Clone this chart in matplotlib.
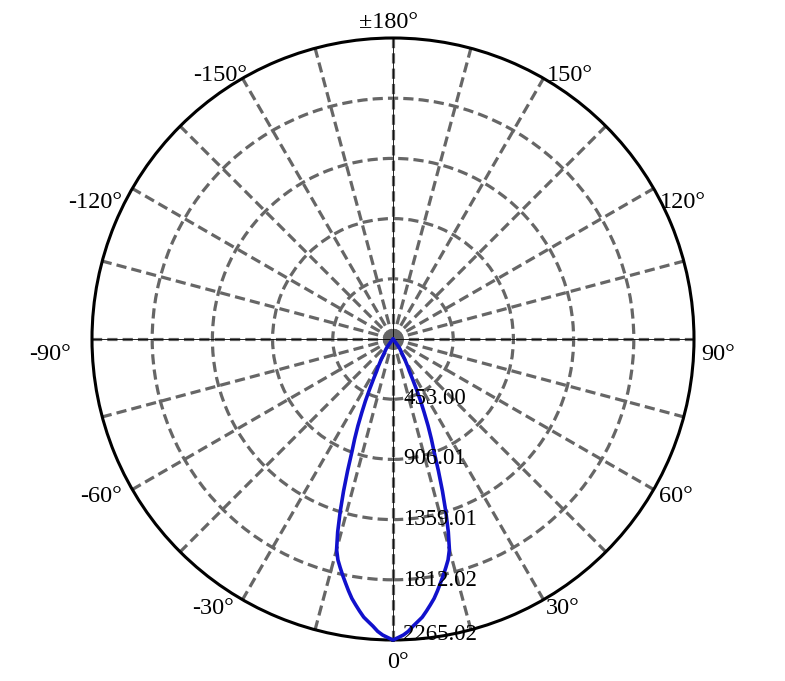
"""
Polar light distribution plot (luminous intensity, cd)
"""

import numpy as np
import matplotlib.pyplot as plt

# intensity curve (lobe is symmetric about 0 deg)
angles_deg = [0, 1, 2, 3, 4, 5, 6, 7, 8, 9, 10, 11, 12, 13, 14, 15, 16, 17, 18, 19,
              20, 21, 22, 23, 24, 25, 26, 27, 28, 29, 30, 32, 34, 35, 36, 38, 40,
              50, 60, 90, 120, 150, 180]
intensity = [2265.02, 2247, 2229, 2203, 2166, 2135, 2105, 2063, 2020, 1977,
             1925, 1871, 1819, 1766, 1713, 1640, 1510, 1360, 1205, 1050,
             905, 805, 705, 600, 510, 415, 335, 270, 240, 205, 178, 125, 100, 90, 70, 20, 0,
             0, 0, 0, 0, 0, 0]

r_ticks = [453.00, 906.01, 1359.01, 1812.02, 2265.02]
r_max = 2265.02
theta_labels = [0, 30, 60, 90, 120, 150, 180, -150, -120, -90, -60, -30]

plt.rcParams['font.family'] = ['Liberation Serif', 'DejaVu Serif']

fig = plt.figure(figsize=(7.85, 6.81), dpi=100)
ax = fig.add_axes([92 / 785, 41 / 681, 602 / 785, 602 / 681], projection='polar')
ax.set_theta_zero_location('S')
ax.set_theta_direction(1)
ax.set_ylim(0, r_max)

# dashed grid: spokes every 15 deg, circles at the radial ticks
ax.set_thetagrids(np.arange(0, 360, 15), labels=[''] * 24)
ax.set_rgrids(r_ticks[:-1], labels=[''] * (len(r_ticks) - 1))
ax.grid(True, color='#666666', linewidth=2.3, linestyle=(0, (3.2, 1.6)))
ax.tick_params(length=0)
ax.spines['polar'].set_linewidth(2.2)
ax.spines['polar'].set_color('black')

# grey hub where the spokes meet
ax.plot([0], [0], 'o', color='#666666', ms=15, mec='none', zorder=2.2, clip_on=False)

# thin black axis lines through the centre
ax.plot([0, 0, np.pi], [r_max, 0, r_max], color='black', lw=0.6, zorder=2.5)
ax.plot([np.pi / 2, 0, 3 * np.pi / 2], [r_max, 0, r_max], color='black', lw=0.6, zorder=2.5)

# curve, mirrored to the negative side
a = np.array(angles_deg)
v = np.array(intensity)
theta = np.radians(np.concatenate([-a[::-1], a[1:]]))
vals = np.concatenate([v[::-1], v[1:]])
ax.plot(theta, vals, color='#1111CC', lw=2.6, zorder=3, clip_on=False,
        solid_joinstyle='round', solid_capstyle='round')

# angle labels (pixel offsets of the label centre from the circle point)
label_offsets = {0: (5, -20), 30: (19.5, -6.3), 60: (22.3, -4.5), 90: (24, -13),
                 120: (29.3, -11.5), 150: (26.5, 5.3), 180: (-5, 18),
                 -150: (-22.5, 5.3), -120: (-37.3, -11.5), -90: (-42, -13),
                 -60: (-31.3, -4.5), -30: (-29.5, -6.3)}
for ang in theta_labels:
    txt = '±180°' if ang == 180 else f'{ang}°'
    dx, dy = label_offsets[ang]
    ax.annotate(txt, xy=(np.radians(ang), r_max), xytext=(dx, dy - 8),
                textcoords='offset pixels', ha='center', va='baseline',
                fontsize=17.5, annotation_clip=False)

# radial value labels along the 0 deg spoke
r_label_dy = [3, 3, 2, 1, 7]
for r, dy in zip(r_ticks, r_label_dy):
    ax.annotate(f'{r:.2f}', xy=(0, r), xytext=(10, dy - 7.5),
                textcoords='offset pixels', ha='left', va='baseline',
                fontsize=16.5, annotation_clip=False, zorder=4)

plt.savefig('out.png', dpi=100)
